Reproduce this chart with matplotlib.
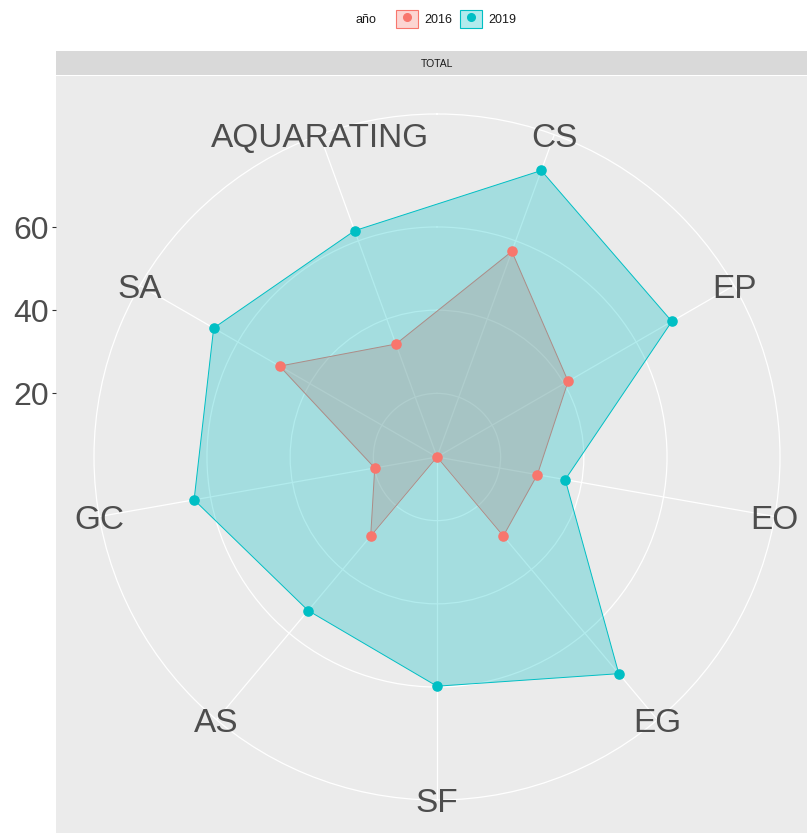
import matplotlib
matplotlib.use('Agg')
import matplotlib.pyplot as plt
import matplotlib.transforms as mtransforms
from matplotlib.patches import Patch
from matplotlib.lines import Line2D
from matplotlib.legend_handler import HandlerTuple
from matplotlib.colors import to_rgba
import numpy as np

plt.rcParams['font.family'] = ['Liberation Sans', 'DejaVu Sans']

# data, clockwise starting from CS
categories = ['CS', 'EP', 'EO', 'EG', 'SF', 'AS', 'GC', 'SA', 'AQUARATING']
years = ['2016', '2019']
vals_2016 = [57.3, 41.1, 29.2, 29.5, 4.7, 29.5, 19.9, 48.4, 33.6]
vals_2019 = [78.0, 69.9, 36.0, 72.7, 59.8, 52.9, 64.0, 66.7, 62.6]
r_ticks = [20, 40, 60]
colors = ['#F8766D', '#00BFC4']

W, H = 807, 833
fig = plt.figure(figsize=(W / 100, H / 100), dpi=100)


def box(x0, y0, x1, y1):
    # pixel box (top-left origin) -> figure fraction
    return [x0 / W, 1 - y1 / H, (x1 - x0) / W, (y1 - y0) / H]


all_vals = vals_2016 + vals_2019
rmin, rmax = min(all_vals), max(all_vals)
rspan = rmax - rmin

# grey panel, also carries the radial axis on the left
cx, cy, half = 437, 457, 381
ax_panel = fig.add_axes(box(cx - half, cy - half, cx + half, cy + half))
ax_panel.set_facecolor('#EBEBEB')
for s in ax_panel.spines.values():
    s.set_visible(False)
ax_panel.set_xlim(0, 1)
ax_panel.set_ylim(rmin - 0.5 * rspan / 0.4, rmin + 0.5 * rspan / 0.4)
ax_panel.set_xticks([])
ax_panel.set_yticks(r_ticks)
ax_panel.set_yticklabels([str(t) for t in r_ticks], fontsize=23, color='#4D4D4D')
ax_panel.tick_params(axis='y', length=3, width=0.8, color='#333333', pad=2)

# strip
ax_strip = fig.add_axes(box(cx - half, 51, cx + half, 75))
ax_strip.set_facecolor('#D9D9D9')
ax_strip.set_xticks([])
ax_strip.set_yticks([])
for s in ax_strip.spines.values():
    s.set_visible(False)
ax_strip.text(0.5, 0.45, 'TOTAL', ha='center', va='center', fontsize=7.5, color='#1A1A1A')

# radar
R = 343
ax = fig.add_axes(box(cx - R, cy - R, cx + R, cy + R), projection='polar')
ax.set_theta_zero_location('N')
ax.set_theta_direction(-1)
ax.patch.set_visible(False)
angles = np.deg2rad(20 + 40 * np.arange(len(categories)))
rtop = rmin + 0.45 * rspan / 0.4
ax.set_ylim(rmin, rtop)
ax.set_xticks(angles)
ax.set_xticklabels([])
ax.set_yticks(r_ticks)
ax.set_yticklabels([])
ax.tick_params(length=0)
ax.grid(True, color='white', lw=0.9)
ax.spines['polar'].set_color('white')
ax.spines['polar'].set_linewidth(0.9)

closed_a = np.append(angles, angles[0])
series = [vals_2016, vals_2019]
for vals, col in zip(series, colors):
    v = np.append(vals, vals[0])
    ax.fill(closed_a, v, facecolor=to_rgba(col, 0.3), edgecolor=col, lw=0.7, zorder=2)
for vals, col in zip(series, colors):
    ax.plot(angles, vals, 'o', color=col, ms=6.6, zorder=3, clip_on=False)

# category labels sit on the outer circle, nudged down a little like ggplot's margin
lab_tr = mtransforms.offset_copy(ax.transData, fig=fig, x=0, y=-4, units='dots')
for a, cat in zip(angles, categories):
    ax.text(a, rtop, cat, ha='center', va='center', fontsize=24, transform=lab_tr,
            color='#4D4D4D', zorder=5, clip_on=False)

# legend
handles = []
for col in colors:
    handles.append((Patch(facecolor=to_rgba(col, 0.3), edgecolor=col, lw=0.8),
                    Line2D([], [], marker='o', color=col, ls='', ms=5.5)))
fig.text(355 / W, 1 - 20 / H, 'año', ha='left', va='center', fontsize=9, color='#1A1A1A')
fig.legend(handles, years, handler_map={tuple: HandlerTuple(ndivide=1)},
           ncol=2, loc='center', bbox_to_anchor=(456 / W, 1 - 19 / H), frameon=False,
           fontsize=9, handlelength=1.8, handleheight=1.8, handletextpad=0.5,
           columnspacing=0.6, borderpad=0, labelcolor='#1A1A1A')

fig.savefig('out.png', dpi=100)
